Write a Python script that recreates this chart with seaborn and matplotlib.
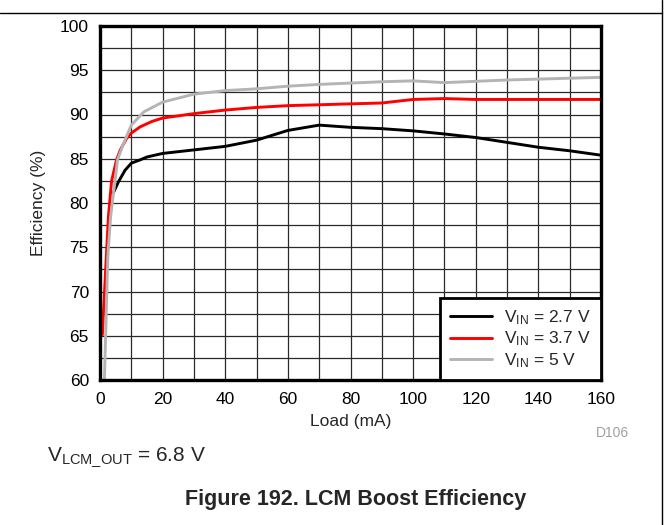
import numpy as np
import pandas as pd
import matplotlib
matplotlib.use('Agg')
import matplotlib.pyplot as plt
from matplotlib.lines import Line2D
from matplotlib.ticker import MultipleLocator
import seaborn as sns

# ── Data ───────────────────────────────────────────────────────────
load_27 = [4.2, 5.9, 8, 10, 13, 15, 20, 30, 40, 50, 60, 70, 80, 90, 100,
           110, 120, 130, 140, 150, 160]
eff_27 = [81.1, 82.4, 83.7, 84.5, 84.9, 85.2, 85.6, 86.0, 86.4, 87.1, 88.2,
          88.8, 88.55, 88.4, 88.15, 87.8, 87.4, 86.85, 86.3, 85.9, 85.4]

load_37 = [0.75, 2, 2.7, 3.7, 5.3, 6.5, 8.5, 10, 12.8, 16.5, 20, 30, 40, 50,
           60, 70, 80, 90, 100, 110, 120, 130, 140, 150, 160]
eff_37 = [65.1, 73.8, 78.5, 82.5, 84.9, 86.0, 87.3, 87.9, 88.6, 89.2, 89.6,
          90.1, 90.5, 90.8, 91.0, 91.1, 91.2, 91.3, 91.7, 91.8, 91.7, 91.7,
          91.7, 91.7, 91.7]

load_5 = [1.4, 2.5, 3.4, 4.7, 5.6, 7.5, 10, 14, 20, 30, 40, 50, 60, 70, 80,
          90, 100, 110, 120, 130, 140, 150, 160]
eff_5 = [60.0, 74.0, 78.5, 82.2, 84.9, 86.7, 88.8, 90.3, 91.4, 92.3, 92.7,
         92.9, 93.2, 93.4, 93.55, 93.7, 93.8, 93.6, 93.75, 93.9, 94.0, 94.1,
         94.2]

series_labels = [r'V$_{\rm IN}$ = 2.7 V', r'V$_{\rm IN}$ = 3.7 V', r'V$_{\rm IN}$ = 5 V']
series_colors = ['#000000', '#ff0000', '#b4b4b4']

x_ticks = [0, 20, 40, 60, 80, 100, 120, 140, 160]
y_ticks = [60, 65, 70, 75, 80, 85, 90, 95, 100]

# ── Style ─────────────────────────────────────────────────────────
sns.set_style('white')
plt.rcParams['font.family'] = ['Liberation Sans', 'DejaVu Sans']
plt.rcParams['mathtext.fontset'] = 'custom'
plt.rcParams['mathtext.rm'] = 'Liberation Sans'
plt.rcParams['mathtext.it'] = 'Liberation Sans:italic'
plt.rcParams['mathtext.bf'] = 'Liberation Sans:bold'

df = pd.concat([
    pd.DataFrame({'load': load_27, 'eff': eff_27, 'vin': series_labels[0]}),
    pd.DataFrame({'load': load_37, 'eff': eff_37, 'vin': series_labels[1]}),
    pd.DataFrame({'load': load_5, 'eff': eff_5, 'vin': series_labels[2]}),
], ignore_index=True)

W, H = 669, 525
fig = plt.figure(figsize=(W / 100, H / 100), dpi=100)
ax = fig.add_axes([100 / W, 1 - 380 / H, 501 / W, 354 / H])

sns.lineplot(data=df, x='load', y='eff', hue='vin', hue_order=series_labels,
             palette=series_colors, estimator=None, sort=False,
             linewidth=2.1, ax=ax, legend=False)

ax.set_xlim(0, 160)
ax.set_ylim(60, 100)
ax.set_xticks(x_ticks)
ax.set_yticks(y_ticks)
ax.xaxis.set_minor_locator(MultipleLocator(10))
ax.yaxis.set_minor_locator(MultipleLocator(2.5))
ax.grid(True, which='both', color='#2a2a2a', linewidth=0.9)
ax.set_axisbelow(True)
ax.tick_params(which='both', length=0, labelsize=12.5, colors='black')
ax.tick_params(axis='x', pad=9)
ax.tick_params(axis='y', pad=8)
for sp in ax.spines.values():
    sp.set_visible(True)
    sp.set_color('black')
    sp.set_linewidth(2.4)

ax.set_xlabel('Load (mA)', fontsize=12.5)
ax.set_ylabel('Efficiency (%)', fontsize=12.5)
ax.xaxis.set_label_coords(0.5, -0.097)
ax.yaxis.set_label_coords(-0.107, 0.5)

handles = [Line2D([], [], color=c, linewidth=2.1) for c in series_colors]
leg = ax.legend(handles, series_labels, loc='lower right', borderaxespad=0,
                fontsize=12.5, frameon=True, fancybox=False, framealpha=1,
                edgecolor='black', handlelength=2.4, handletextpad=0.7,
                labelspacing=0.15, borderpad=0.6)
leg.get_frame().set_linewidth(2.0)

# ── Annotations outside the axes ──────────────────────────────────
fig.text(612 / W, 1 - 433 / H, 'D106', color='#a0a0a0', fontsize=10,
         ha='center', va='center')
fig.text(47 / W, 1 - 457 / H, r'V$_{\rm LCM\_OUT}$ = 6.8 V', fontsize=15,
         ha='left', va='center')
fig.text(356 / W, 1 - 500 / H, 'Figure 192. LCM Boost Efficiency',
         fontsize=15.5, fontweight='bold', ha='center', va='center')

# page frame lines
fig.add_artist(Line2D([0, 662 / W], [1 - 12.5 / H] * 2, color='black', linewidth=1.0))
fig.add_artist(Line2D([662 / W] * 2, [0, 1], color='black', linewidth=1.0))

fig.savefig('out.png', dpi=100)
